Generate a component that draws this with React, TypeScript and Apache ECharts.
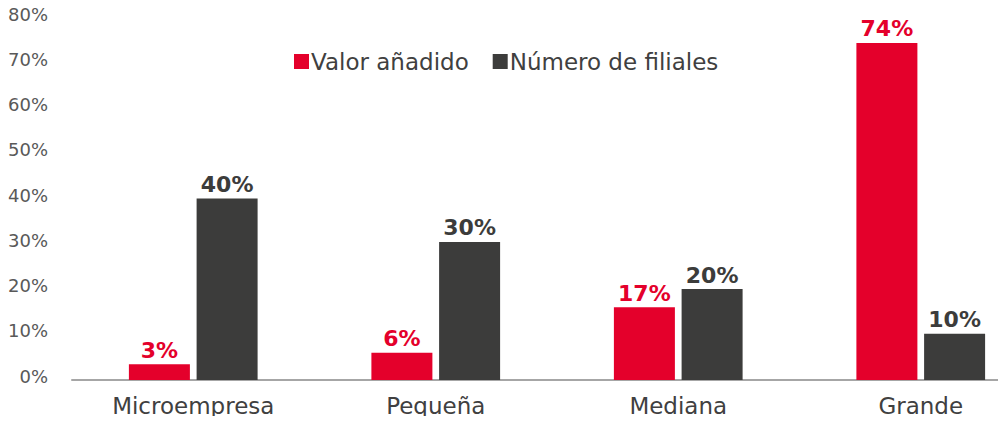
import React, { useEffect, useRef } from "react";
import * as echarts from "echarts";

const categories = ["Microempresa", "Pequeña", "Mediana", "Grande"];
const valorAnadido = [3.5, 6.0, 16.1, 74.5];
const valorLabels = ["3%", "6%", "17%", "74%"];
const numeroFiliales = [40.1, 30.5, 20.1, 10.2];
const filialesLabels = ["40%", "30%", "20%", "10%"];
const seriesNames = ["Valor añadido", "Número de filiales"];

const RED = "#e4002b";
const DARK = "#3c3c3b";
const FONT = "'DejaVu Sans', sans-serif";

export default function App() {
  const ref = useRef<HTMLDivElement>(null);
  useEffect(() => {
    if (!ref.current) return;
    const chart = echarts.init(ref.current, undefined, { renderer: "svg" });
    chart.setOption({
      animation: false,
      textStyle: { fontFamily: FONT },
      legend: {
        left: 289,
        top: 45,
        itemWidth: 15,
        itemHeight: 15,
        itemGap: 24,
        icon: "rect",
        textStyle: { fontSize: 23, color: "#404040", fontFamily: FONT, padding: [0, 0, 0, -3] },
        data: seriesNames,
      },
      grid: { left: 72, right: -36, top: 18, bottom: 44, containLabel: false, outerBoundsMode: "none" },
      xAxis: {
        type: "category",
        data: categories,
        axisLine: { show: true, lineStyle: { color: "#a6a6a6", width: 2 } },
        axisTick: { show: false },
        axisLabel: { fontSize: 23, color: "#404040", margin: 14, fontFamily: FONT },
      },
      yAxis: {
        type: "value",
        min: 0,
        max: 80,
        interval: 10,
        splitLine: { show: false },
        axisLine: { show: false },
        axisTick: { show: false },
        axisLabel: {
          formatter: "{value}%",
          fontSize: 18,
          color: "#595959",
          margin: 24,
          fontFamily: FONT,
          verticalAlign: "bottom",
          padding: [0, 0, -5, 0],
        },
      },
      series: [
        {
          name: seriesNames[0],
          type: "bar",
          data: valorAnadido,
          barWidth: 61,
          barGap: "11%",
          itemStyle: { color: RED },
          label: {
            show: true,
            position: "top",
            distance: 3,
            color: RED,
            fontSize: 22,
            fontWeight: "bold",
            fontFamily: FONT,
            formatter: (p: any) => valorLabels[p.dataIndex],
          },
        },
        {
          name: seriesNames[1],
          type: "bar",
          data: numeroFiliales,
          barWidth: 61,
          barGap: "11%",
          itemStyle: { color: DARK },
          label: {
            show: true,
            position: "top",
            distance: 3,
            color: DARK,
            fontSize: 22,
            fontWeight: "bold",
            fontFamily: FONT,
            formatter: (p: any) => filialesLabels[p.dataIndex],
          },
        },
      ],
    });
    return () => chart.dispose();
  }, []);
  return <div ref={ref} style={{ width: 1006, height: 424, margin: -8 }} />;
}
